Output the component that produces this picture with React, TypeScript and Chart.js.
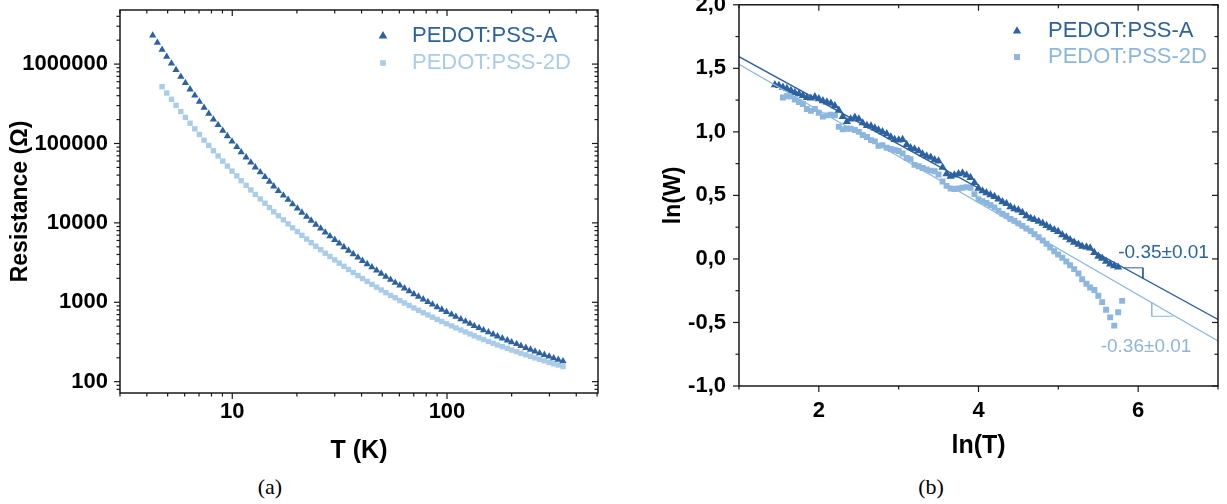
import React, { useEffect, useRef } from 'react';
import { Chart, registerables } from 'chart.js';

Chart.register(...registerables);

const SANS = '"Liberation Sans", Arial, Helvetica, sans-serif';
Chart.defaults.font.family = SANS;

// ---------- data ----------
const LABEL_A = 'PEDOT:PSS-A';
const LABEL_2D = 'PEDOT:PSS-2D';

// temperature points (K)
const TEMPS_K = [
  4.26, 4.48, 4.71, 4.95, 5.21, 5.47, 5.76, 6.05, 6.36, 6.69,
  7.03, 7.39, 7.77, 8.17, 8.59, 9.03, 9.49, 9.97, 10.5, 11.0,
  11.6, 12.2, 12.8, 13.5, 14.2, 14.9, 15.6, 16.4, 17.3, 18.2,
  19.1, 20.1, 21.1, 22.2, 23.3, 24.5, 25.8, 27.1, 28.5, 30.0,
  31.5, 33.1, 34.8, 36.6, 38.5, 40.4, 42.5, 44.7, 47.0, 49.4,
  51.9, 54.6, 57.4, 60.3, 63.4, 66.7, 70.1, 73.7, 77.5, 81.5,
  85.6, 90.0, 94.6, 99.5, 105, 110, 116, 122, 128, 134,
  141, 148, 156, 164, 172, 181, 191, 200, 211, 221,
  233, 245, 257, 270, 284, 299, 314, 330, 347,
];

// resistance (Ohm)
const RES_A = [
  2.29e6, 1.86e6, 1.52e6, 1.24e6, 1.02e6, 8.42e5, 6.96e5, 5.78e5, 4.81e5, 4.02e5,
  3.36e5, 2.83e5, 2.38e5, 2.01e5, 1.71e5, 1.45e5, 1.24e5, 1.06e5, 9.06e4, 7.78e4,
  6.70e4, 5.79e4, 5.01e4, 4.35e4, 3.79e4, 3.30e4, 2.89e4, 2.53e4, 2.22e4, 1.96e4,
  1.72e4, 1.52e4, 1.35e4, 1.20e4, 1.07e4, 9500, 8490, 7600, 6810, 6120,
  5500, 4960, 4480, 4050, 3670, 3330, 3030, 2760, 2520, 2300,
  2100, 1930, 1770, 1630, 1500, 1380, 1270, 1180, 1090, 1010,
  937, 870, 810, 754, 703, 657, 614, 574, 538, 505,
  474, 446, 419, 395, 373, 352, 332, 314, 298, 282,
  267, 254, 241, 229, 218, 208, 198, 189, 181,
];

const RES_2D = [
  null, null, 5.20e5, 4.32e5, 3.60e5, 3.02e5, 2.53e5, 2.13e5, 1.80e5, 1.53e5,
  1.30e5, 1.10e5, 9.45e4, 8.10e4, 6.96e4, 6.00e4, 5.19e4, 4.49e4, 3.90e4, 3.40e4,
  2.97e4, 2.60e4, 2.28e4, 2.00e4, 1.77e4, 1.56e4, 1.38e4, 1.23e4, 1.09e4, 9720,
  8680, 7770, 6960, 6260, 5630, 5080, 4590, 4150, 3770, 3420,
  3110, 2840, 2590, 2370, 2170, 1990, 1830, 1680, 1550, 1430,
  1320, 1220, 1140, 1050, 979, 912, 849, 792, 740, 692,
  648, 608, 571, 536, 504, 475, 448, 423, 399, 378,
  357, 339, 321, 305, 290, 276, 263, 250, 239, 228,
  218, 208, 199, 191, 183, 175, 168, 162, 155,
];

// ln(W) at ln(T) of the same temperature points
const LNW_A = [
  1.37, 1.365, 1.35, 1.34, 1.325, 1.31, 1.30, 1.285, 1.27, 1.265,
  1.275, 1.26, 1.245, 1.235, 1.225, 1.205, 1.17, 1.12, 1.08, 1.10,
  1.115, 1.10, 1.07, 1.05, 1.045, 1.03, 1.015, 1.0, 0.985, 0.96,
  0.94, 0.935, 0.94, 0.90, 0.875, 0.865, 0.85, 0.825, 0.81, 0.80,
  0.78, 0.77, 0.72, 0.67, 0.65, 0.66, 0.67, 0.675, 0.66, 0.64,
  0.60, 0.555, 0.535, 0.52, 0.505, 0.49, 0.47, 0.45, 0.435, 0.41,
  0.395, 0.385, 0.365, 0.34, 0.32, 0.31, 0.295, 0.28, 0.262, 0.245,
  0.23, 0.215, 0.19, 0.17, 0.15, 0.13, 0.115, 0.10, 0.093, 0.085,
  0.05, 0.02, 0.005, -0.02, -0.04, -0.055, -0.065, null, null,
];

const LNW_2D = [
  null, null, 1.27, 1.28, 1.28, 1.255, 1.235, 1.22, 1.18, 1.165,
  1.18, 1.15, 1.12, 1.13, 1.135, 1.13, 1.04, 1.02, 1.025, 1.025,
  1.015, 1.0, 0.975, 0.96, 0.935, 0.925, 0.89, 0.895, 0.875, 0.865,
  0.858, 0.85, 0.83, 0.795, 0.785, 0.74, 0.73, 0.715, 0.705, 0.695,
  0.69, 0.665, 0.61, 0.575, 0.555, 0.55, 0.555, 0.56, 0.565, 0.56,
  0.51, 0.47, 0.455, 0.44, 0.425, 0.405, 0.38, 0.355, 0.34, 0.315,
  0.30, 0.28, 0.26, 0.24, 0.22, 0.195, 0.17, 0.145, 0.12, 0.09,
  0.06, 0.035, 0.01, -0.02, -0.05, -0.08, -0.115, -0.16, -0.195, -0.225,
  -0.245, -0.29, -0.34, -0.40, -0.46, -0.525, -0.42, -0.33, null,
];

// linear fits in the ln-ln plot
const FIT_X = [1, 7];
const FIT_A = [1.592, -0.477];
const FIT_2D = [1.532, -0.645];
const SLOPE_A_TEXT = '-0.35±0.01';
const SLOPE_2D_TEXT = '-0.36±0.01';
const SLOPE_TRI_A_X = [5.81, 6.06, 6.06];
const SLOPE_TRI_A_Y = [-0.07, -0.07, -0.152];
const SLOPE_TRI_2D_X = [6.17, 6.17, 6.44];
const SLOPE_TRI_2D_Y = [-0.345, -0.451, -0.451];

// axis ticks
const LEFT_X_TICKS = [10, 100];
const LEFT_Y_TICKS = [100, 1000, 10000, 100000, 1000000];
const RIGHT_X_TICKS = [2, 4, 6];
const RIGHT_X_MINOR = [1, 3, 5, 7];
const RIGHT_Y_TICKS = [-1, -0.5, 0, 0.5, 1, 1.5, 2];
const RIGHT_Y_MINOR = [-0.75, -0.25, 0.25, 0.75, 1.25, 1.75];

// ---------- styles ----------
const COLOR_A = '#2d62a1';
const COLOR_2D_L = '#a9cce9';
const COLOR_2D_R = '#8db6df';
const COLOR_FIT_A = '#2d5f9e';
const COLOR_FIT_2D = '#8db8e2';

function logMinor(min: number, max: number) {
  const out: number[] = [];
  for (let d = Math.floor(Math.log10(min)); d <= Math.ceil(Math.log10(max)); d++) {
    for (let k = 2; k <= 9; k++) {
      const v = k * Math.pow(10, d);
      if (v >= min && v <= max) out.push(v);
    }
  }
  return out;
}

function drawMarker(ctx: CanvasRenderingContext2D, style: string, x: number, y: number, r: number) {
  ctx.beginPath();
  if (style === 'triangle') {
    ctx.moveTo(x, y - r);
    ctx.lineTo(x + r * 0.866, y + r * 0.5);
    ctx.lineTo(x - r * 0.866, y + r * 0.5);
    ctx.closePath();
  } else {
    const s = r * Math.SQRT1_2;
    ctx.rect(x - s, y - s, 2 * s, 2 * s);
  }
  ctx.fill();
}

function framePlugin(xMajor: number[], xMinor: number[], yMajor: number[], yMinor: number[]) {
  return {
    id: 'frameTicks',
    afterDraw(chart: any) {
      const { ctx, chartArea: a, scales } = chart;
      const xs = scales.x;
      const ys = scales.y;
      ctx.save();
      ctx.strokeStyle = '#1a1a1a';
      ctx.lineWidth = 1.2;
      const seg = (x1: number, y1: number, x2: number, y2: number) => {
        ctx.beginPath();
        ctx.moveTo(x1, y1);
        ctx.lineTo(x2, y2);
        ctx.stroke();
      };
      const xsets: [number[], number][] = [[xMajor, 6], [xMinor, 3.5]];
      for (const [vals, len] of xsets) {
        for (const v of vals) {
          const px = xs.getPixelForValue(v);
          seg(px, a.bottom, px, a.bottom + len);
          seg(px, a.top, px, a.top + len);
        }
      }
      const ysets: [number[], number][] = [[yMajor, 6], [yMinor, 3.5]];
      for (const [vals, len] of ysets) {
        for (const v of vals) {
          const py = ys.getPixelForValue(v);
          seg(a.left - len, py, a.left, py);
          seg(a.right - len, py, a.right, py);
        }
      }
      ctx.lineWidth = 1.5;
      ctx.strokeRect(a.left, a.top, a.right - a.left, a.bottom - a.top);
      ctx.restore();
    },
  };
}

type LegendItem = { label: string; color: string; style: string; mx: number; tx: number; y: number; r: number };
type TextItem = { text: string; color: string; x: number; y: number };

function overlayPlugin(legend: LegendItem[], texts: TextItem[]) {
  return {
    id: 'overlay',
    afterDraw(chart: any) {
      const { ctx, scales } = chart;
      ctx.save();
      ctx.textBaseline = 'middle';
      ctx.textAlign = 'left';
      for (const it of legend) {
        ctx.fillStyle = it.color;
        drawMarker(ctx, it.style, it.mx, it.y, it.r);
        ctx.font = `22px ${SANS}`;
        ctx.fillText(it.label, it.tx, it.y);
      }
      for (const t of texts) {
        ctx.fillStyle = t.color;
        ctx.font = `19px ${SANS}`;
        ctx.fillText(t.text, scales.x.getPixelForValue(t.x), scales.y.getPixelForValue(t.y));
      }
      ctx.restore();
    },
  };
}

const tickFont = { family: SANS, size: 22, weight: 'bold' as const };

function leftConfig(): any {
  const ptsA = TEMPS_K.map((t, i) => ({ x: t, y: RES_A[i] })).filter((p) => p.y != null);
  const pts2D = TEMPS_K.map((t, i) => ({ x: t, y: RES_2D[i] })).filter((p) => p.y != null);
  const xMin = 3, xMax = 505, yMin = 72, yMax = 4.8e6;
  return {
    type: 'scatter',
    data: {
      datasets: [
        { label: LABEL_A, data: ptsA, pointStyle: 'triangle', pointRadius: 4.2, backgroundColor: COLOR_A, borderWidth: 0, order: 1 },
        { label: LABEL_2D, data: pts2D, pointStyle: 'rect', pointRadius: 3.8, backgroundColor: COLOR_2D_L, borderWidth: 0, order: 2 },
      ],
    },
    options: {
      animation: false,
      responsive: false,
      devicePixelRatio: 1,
      events: [],
      layout: { padding: { left: 0, top: 10, right: 22, bottom: 0 } },
      plugins: { legend: { display: false }, tooltip: { enabled: false } },
      scales: {
        x: {
          type: 'logarithmic', min: xMin, max: xMax,
          grid: { display: false, drawTicks: false }, border: { display: false },
          ticks: { font: tickFont, color: '#000', padding: 6, autoSkip: false, maxRotation: 0, minRotation: 0, callback: (v: any) => String(v) },
          afterBuildTicks: (s: any) => { s.ticks = LEFT_X_TICKS.map((v) => ({ value: v })); },
          afterFit: (s: any) => { s.height = 77; s.paddingLeft = 0; s.paddingRight = 0; },
          title: { display: true, text: 'T (K)', color: '#000', font: { family: SANS, size: 25, weight: 'bold' }, padding: { top: 0, bottom: 4 } },
        },
        y: {
          type: 'logarithmic', min: yMin, max: yMax,
          grid: { display: false, drawTicks: false }, border: { display: false },
          ticks: { font: tickFont, color: '#000', padding: 12, autoSkip: false, callback: (v: any) => String(v) },
          afterBuildTicks: (s: any) => { s.ticks = LEFT_Y_TICKS.map((v) => ({ value: v })); },
          afterFit: (s: any) => { s.width = 120; s.paddingTop = 0; s.paddingBottom = 0; },
          title: { display: true, text: 'Resistance (Ω)', color: '#000', font: { family: SANS, size: 23, weight: 'bold' }, padding: { top: 7, bottom: 0 } },
        },
      },
    },
    plugins: [
      framePlugin(LEFT_X_TICKS, logMinor(xMin, xMax), LEFT_Y_TICKS, logMinor(yMin, yMax)),
      overlayPlugin(
        [
          { label: LABEL_A, color: COLOR_A, style: 'triangle', mx: 383, tx: 412, y: 36, r: 5 },
          { label: LABEL_2D, color: COLOR_2D_L, style: 'rect', mx: 383, tx: 412, y: 63, r: 4 },
        ],
        []
      ),
    ],
  };
}

function rightConfig(): any {
  const ptsA = TEMPS_K.map((t, i) => ({ x: Math.log(t), y: LNW_A[i] })).filter((p) => p.y != null);
  const pts2D = TEMPS_K.map((t, i) => ({ x: Math.log(t), y: LNW_2D[i] })).filter((p) => p.y != null);
  const lineDs = (xs: number[], ys: number[], color: string, w: number) => ({
    data: xs.map((x, i) => ({ x, y: ys[i] })),
    showLine: true, pointRadius: 0, borderColor: color, borderWidth: w, backgroundColor: color, fill: false, tension: 0, order: 0,
  });
  return {
    type: 'scatter',
    data: {
      datasets: [
        { label: LABEL_A, data: ptsA, pointStyle: 'triangle', pointRadius: 4.8, backgroundColor: COLOR_A, borderWidth: 0, order: 1 },
        { label: LABEL_2D, data: pts2D, pointStyle: 'rect', pointRadius: 4.2, backgroundColor: COLOR_2D_R, borderWidth: 0, order: 2 },
        lineDs(FIT_X, FIT_A, COLOR_FIT_A, 1.3),
        lineDs(FIT_X, FIT_2D, COLOR_FIT_2D, 1.3),
        lineDs(SLOPE_TRI_A_X, SLOPE_TRI_A_Y, COLOR_FIT_A, 1),
        lineDs(SLOPE_TRI_2D_X, SLOPE_TRI_2D_Y, COLOR_FIT_2D, 1),
      ],
    },
    options: {
      animation: false,
      responsive: false,
      devicePixelRatio: 1,
      events: [],
      layout: { padding: { left: 0, top: 1.5, right: 9, bottom: 0 } },
      plugins: { legend: { display: false }, tooltip: { enabled: false } },
      scales: {
        x: {
          type: 'linear', min: 1, max: 7,
          grid: { display: false, drawTicks: false }, border: { display: false },
          ticks: { font: tickFont, color: '#000', padding: 12, autoSkip: false, maxRotation: 0, minRotation: 0, callback: (v: any) => String(v) },
          afterBuildTicks: (s: any) => { s.ticks = RIGHT_X_TICKS.map((v) => ({ value: v })); },
          afterFit: (s: any) => { s.height = 84; s.paddingLeft = 0; s.paddingRight = 0; },
          title: { display: true, text: 'ln(T)', color: '#000', font: { family: SANS, size: 25, weight: 'bold' }, padding: { top: 0, bottom: 9 } },
        },
        y: {
          type: 'linear', min: -1, max: 2,
          grid: { display: false, drawTicks: false }, border: { display: false },
          ticks: { font: tickFont, color: '#000', padding: 13, autoSkip: false, callback: (v: any) => Number(v).toFixed(1).replace('.', ',') },
          afterBuildTicks: (s: any) => { s.ticks = RIGHT_Y_TICKS.map((v) => ({ value: v })); },
          afterFit: (s: any) => { s.width = 119; s.paddingTop = 0; s.paddingBottom = 0; },
          title: { display: true, text: 'ln(W)', color: '#000', font: { family: SANS, size: 23, weight: 'bold' }, padding: { top: 40, bottom: 0 } },
        },
      },
    },
    plugins: [
      framePlugin(RIGHT_X_TICKS, RIGHT_X_MINOR, RIGHT_Y_TICKS, RIGHT_Y_MINOR),
      overlayPlugin(
        [
          { label: LABEL_A, color: COLOR_A, style: 'triangle', mx: 397, tx: 428, y: 31, r: 4.8 },
          { label: LABEL_2D, color: COLOR_2D_R, style: 'rect', mx: 397, tx: 428, y: 57, r: 4.2 },
        ],
        [
          { text: SLOPE_A_TEXT, color: COLOR_A, x: 5.75, y: 0.052 },
          { text: SLOPE_2D_TEXT, color: COLOR_2D_R, x: 5.53, y: -0.69 },
        ]
      ),
    ],
  };
}

export default function App() {
  const leftRef = useRef<HTMLCanvasElement | null>(null);
  const rightRef = useRef<HTMLCanvasElement | null>(null);

  useEffect(() => {
    const c1 = new Chart(leftRef.current as HTMLCanvasElement, leftConfig());
    const c2 = new Chart(rightRef.current as HTMLCanvasElement, rightConfig());
    return () => {
      c1.destroy();
      c2.destroy();
    };
  }, []);

  const capStyle: React.CSSProperties = {
    position: 'absolute', top: 474, width: 200, textAlign: 'center',
    font: '22px "Liberation Serif", "DejaVu Serif", serif', lineHeight: '26px', color: '#000',
  };

  return (
    <div style={{ position: 'fixed', left: 0, top: 0, width: 1227, height: 504, background: '#fff', overflow: 'hidden' }}>
      <canvas ref={leftRef} width={620} height={470} style={{ position: 'absolute', left: 0, top: 0, width: 620, height: 470 }} />
      <canvas ref={rightRef} width={607} height={470} style={{ position: 'absolute', left: 620, top: 0, width: 607, height: 470 }} />
      <div style={{ ...capStyle, left: 170 }}>(a)</div>
      <div style={{ ...capStyle, left: 831 }}>(b)</div>
    </div>
  );
}
